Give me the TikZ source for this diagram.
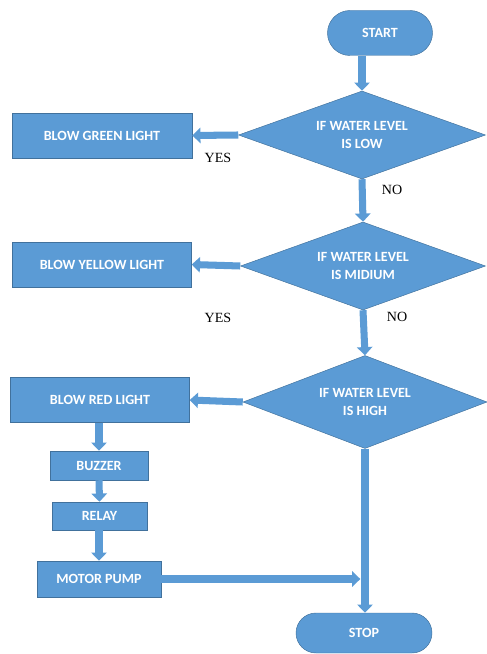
\documentclass[tikz,border=0pt]{standalone}
\usepackage{fontspec}
\setmainfont{Liberation Serif}
\newfontfamily\flowfont{Carlito}
\usetikzlibrary{arrows.meta,shapes.geometric,shapes.misc,positioning,calc}
\definecolor{flowblue}{RGB}{91,155,213}
\definecolor{flowedge}{RGB}{65,113,156}

\begin{document}
\begin{tikzpicture}
[x=0.03cm,y=-0.03cm,
box/.style={draw=flowedge,fill=flowblue,text=white,font=\flowfont\bfseries\fontsize{12}{15}\selectfont,align=center,inner sep=0pt},
proc/.style={box,rectangle},
term/.style={box,rounded rectangle},
decis/.style={box,diamond,aspect=2.8},
flow/.style={flowblue,line width=6pt,-{Triangle[width=13pt,length=7pt]}},
lbl/.style={font=\fontsize{12}{14}\selectfont}]
\useasboundingbox (0,0) rectangle (487,654);

% main column
\node[term,minimum width=3.15cm,minimum height=1.35cm] (start) at (380,33) {START};
\node[decis,minimum width=7.41cm,minimum height=2.64cm] (low) at (362,135) {IF WATER LEVEL\\IS LOW};
\node[decis,minimum width=7.35cm,minimum height=2.64cm] (mid) at (363,266) {IF WATER LEVEL\\IS MIDIUM};
\node[decis,minimum width=7.32cm,minimum height=2.79cm] (high) at (365,402) {IF WATER LEVEL\\IS HIGH};
\node[term,minimum width=4.08cm,minimum height=1.2cm] (stop) at (364,633) {STOP};

% left column
\node[proc,minimum width=5.4cm,minimum height=1.35cm] (green) at (102,135.5) {BLOW GREEN LIGHT};
\node[proc,minimum width=5.37cm,minimum height=1.35cm] (yellow) at (102,264.5) {BLOW YELLOW LIGHT};
\node[proc,minimum width=5.37cm,minimum height=1.35cm] (red) at (100,400) {BLOW RED LIGHT};
\node[proc,minimum width=2.94cm,minimum height=0.87cm] (buzzer) at (99,465.5) {BUZZER};
\node[proc,minimum width=2.85cm,minimum height=0.84cm] (relay) at (99.5,516) {RELAY};
\node[proc,minimum width=3.72cm,minimum height=1.08cm] (pump) at (99,579) {MOTOR PUMP};

% connectors
\draw[flow] (start.south -| low.north) -- (low.north);
\draw[flow] (low.west) -- (green.east);
\draw[flow] (low.south) -- (mid.north);
\draw[flow] (mid.west) -- (yellow.east);
\draw[flow] (mid.south) -- (high.north);
\draw[flow] (high.west) -- (red.east);
\draw[flow] (red.south -| buzzer.north) -- (buzzer.north);
\draw[flow] (buzzer.south) -- (relay.north);
\draw[flow] (relay.south -| pump.north) -- (pump.north);
\draw[flow] (high.south) -- (high.south |- stop.north);
\draw[flow,shorten >=0.14cm] (pump.east) -- (pump.east -| high.south);

% yes / no
\node[lbl] (yes1) at (218,158) {YES};
\node[lbl] (no1) at (392,190) {NO};
\node[lbl] (yes2) at (218,318) {YES};
\node[lbl] (no2) at (397,317) {NO};
\end{tikzpicture}
\end{document}
